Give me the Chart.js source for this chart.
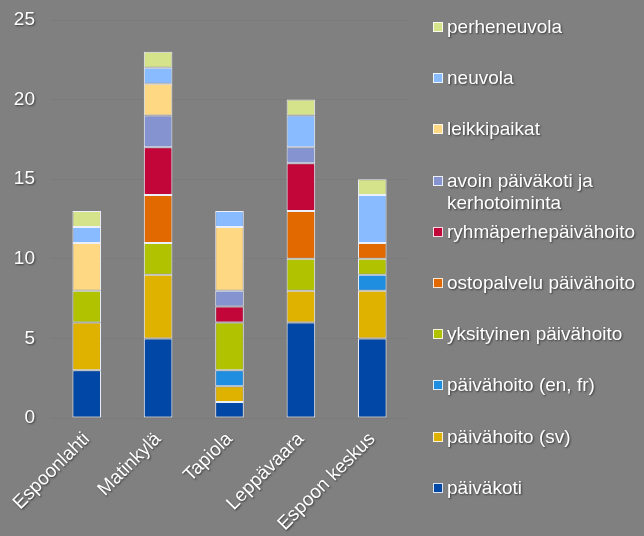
<!DOCTYPE html>
<html>
<head>
<meta charset="utf-8">
<script src="https://cdn.jsdelivr.net/npm/chart.js@4"></script>
<style>
  html, body { margin: 0; padding: 0; background: #808080; }
  #wrap { position: relative; width: 644px; height: 536px; }
  #legend { position: absolute; left: 433px; top: 0; font-family: "Liberation Sans", Arial, sans-serif; font-size: 19px; color: #fff; text-shadow: 1px 1px 2px rgba(0,0,0,0.55); }
  .item { position: absolute; left: 0; white-space: nowrap; line-height: 22px; }
  .box { position: absolute; left: 0; top: 6px; width: 8px; height: 8px; border: 1px solid rgba(255,255,255,0.85); }
  .txt { position: absolute; left: 14px; top: 0; }
</style>
</head>
<body>
<div id="wrap">
  <canvas id="chart" width="644" height="536"></canvas>
  <div id="legend"></div>
</div>
<script>
// Data
const categories = ['Espoonlahti', 'Matinkylä', 'Tapiola', 'Leppävaara', 'Espoon keskus'];
const paivakoti     = [3, 5, 1, 6, 5];
const paivahoitoSv  = [3, 4, 1, 2, 3];
const paivahoitoEn  = [0, 0, 1, 0, 1];
const yksityinen    = [2, 2, 3, 2, 1];
const ostopalvelu   = [0, 3, 0, 3, 1];
const ryhmaperhe    = [0, 3, 1, 3, 0];
const avoin         = [0, 2, 1, 1, 0];
const leikkipaikat  = [3, 2, 4, 0, 0];
const neuvola       = [1, 1, 1, 2, 3];
const perheneuvola  = [1, 1, 0, 1, 1];
const yTicks = [0, 5, 10, 15, 20, 25];

const series = [
  { label: 'päiväkoti', data: paivakoti, color: '#0047a6' },
  { label: 'päivähoito (sv)', data: paivahoitoSv, color: '#e0b200' },
  { label: 'päivähoito (en, fr)', data: paivahoitoEn, color: '#208ee0' },
  { label: 'yksityinen päivähoito', data: yksityinen, color: '#b1c200' },
  { label: 'ostopalvelu päivähoito', data: ostopalvelu, color: '#e26800' },
  { label: 'ryhmäperhepäivähoito', data: ryhmaperhe, color: '#c2063a' },
  { label: ['avoin päiväkoti ja', 'kerhotoiminta'], data: avoin, color: '#8593d0' },
  { label: 'leikkipaikat', data: leikkipaikat, color: '#ffd884' },
  { label: 'neuvola', data: neuvola, color: '#88bbff' },
  { label: 'perheneuvola', data: perheneuvola, color: '#d5e38a' }
];

const FONT = '"Liberation Sans", Arial, sans-serif';

// ombre du texte sur les libellés des axes
const textShadow = {
  id: 'textShadow',
  afterDatasetsDraw(chart) {
    const ctx = chart.ctx;
    ctx.shadowColor = 'rgba(0,0,0,0.55)';
    ctx.shadowOffsetX = 1;
    ctx.shadowOffsetY = 1;
    ctx.shadowBlur = 2;
  },
  afterDraw(chart) {
    const ctx = chart.ctx;
    ctx.shadowColor = 'transparent';
    ctx.shadowBlur = 0;
    ctx.shadowOffsetX = 0;
    ctx.shadowOffsetY = 0;
  }
};

const chart = new Chart(document.getElementById('chart').getContext('2d'), {
  type: 'bar',
  data: {
    labels: categories,
    datasets: series.map(s => ({
      label: s.label,
      data: s.data,
      backgroundColor: s.color,
      borderColor: 'rgba(240,244,255,0.95)',
      borderWidth: 1,
      borderSkipped: false,
      barPercentage: 0.4,
      categoryPercentage: 1
    }))
  },
  options: {
    responsive: false,
    animation: false,
    layout: { padding: { left: 0, right: 236, top: 20, bottom: 0 } },
    plugins: { legend: { display: false }, tooltip: { enabled: false } },
    scales: {
      x: {
        stacked: true,
        grid: { display: false },
        border: { display: false },
        ticks: {
          z: 1,
          color: '#fff',
          font: { family: FONT, size: 19 },
          minRotation: 45,
          maxRotation: 45,
          padding: 2
        },
        afterFit: s => { s.height = 118; }
      },
      y: {
        stacked: true,
        min: 0,
        max: 25,
        afterBuildTicks: s => { s.ticks = yTicks.map(v => ({ value: v })); },
        grid: { color: 'rgba(0,0,0,0.035)', drawTicks: false },
        border: { display: false },
        ticks: {
          z: 1,
          color: '#fff',
          font: { family: FONT, size: 19 },
          padding: 16
        },
        afterFit: s => { s.width = 51; s.paddingTop = 0; s.paddingBottom = 0; }
      }
    }
  },
  plugins: [textShadow]
});

// Légende HTML (ordre inversé, comme la pile)
const legend = document.getElementById('legend');
const sets = chart.data.datasets.slice().reverse();
sets.forEach((ds, i) => {
  const item = document.createElement('div');
  item.className = 'item';
  item.style.top = (16 + i * 51.2) + 'px';
  const box = document.createElement('span');
  box.className = 'box';
  box.style.background = ds.backgroundColor;
  const txt = document.createElement('span');
  txt.className = 'txt';
  const lines = Array.isArray(ds.label) ? ds.label : [ds.label];
  lines.forEach((l, j) => {
    if (j) txt.appendChild(document.createElement('br'));
    txt.appendChild(document.createTextNode(l));
  });
  item.appendChild(box);
  item.appendChild(txt);
  legend.appendChild(item);
});
</script>
</body>
</html>
